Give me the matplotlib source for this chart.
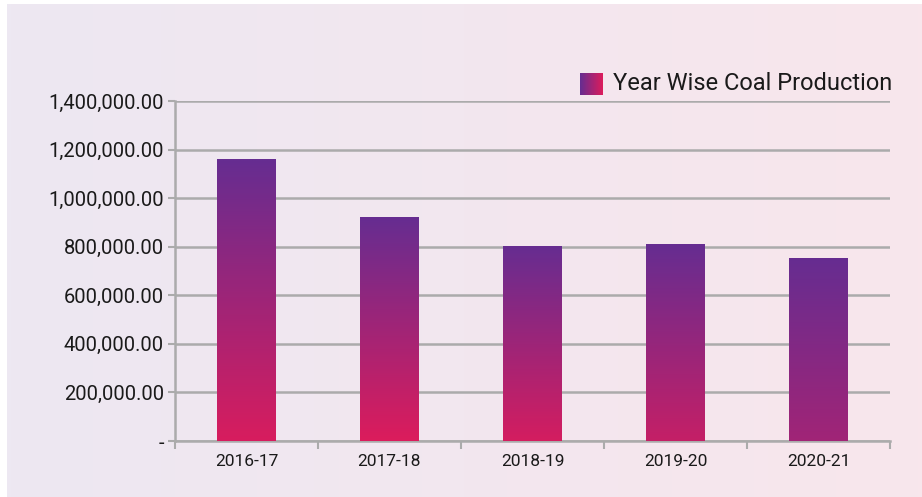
import matplotlib
matplotlib.use("Agg")
import matplotlib.pyplot as plt
import numpy as np
from matplotlib.colors import LinearSegmentedColormap
from matplotlib.ticker import FuncFormatter, FixedLocator

years = ["2016-17", "2017-18", "2018-19", "2019-20", "2020-21"]
production = [1160000, 922000, 804000, 811000, 754000]
series_name = "Year Wise Coal Production"

PURPLE = "#662d91"
PINK = "#dc1c5c"
GRID = "#ababab"
TEXT = "#1a1a1a"

plt.rcParams.update({
    "font.family": ["Roboto", "DejaVu Sans"],
    "font.size": 12,
})

fig = plt.figure(figsize=(9.22, 4.97), dpi=100)

# background: soft lavender -> pink horizontal gradient with thin white margin
bg = fig.add_axes([0, 0, 1, 1], zorder=-10)
bg_cmap = LinearSegmentedColormap.from_list("bg", ["#ede8f2", "#f8e6ec"])
bg.imshow(np.linspace(0, 1, 256)[None, :], cmap=bg_cmap, aspect="auto",
          extent=[0.008, 1, 0, 0.99])
bg.set_xlim(0, 1)
bg.set_ylim(0, 1)
bg.set_facecolor("white")
bg.axis("off")

ax = fig.add_axes([175 / 922, 1 - 441 / 497, 715 / 922, 340 / 497])
ax.patch.set_alpha(0)

x = np.arange(len(years))
bars = ax.bar(x, production, width=0.41, color="none", edgecolor="none", zorder=3)

# each bar gets a vertical purple -> pink fill; lower-right bars fade less to pink
bottom_mix = [0.96, 1.0, 0.93, 0.8, 0.5]
bar_cmap = LinearSegmentedColormap.from_list("bar", [PURPLE, PINK])
for rect, mix in zip(bars, bottom_mix):
    x0, y0 = rect.get_x(), rect.get_y()
    w, h = rect.get_width(), rect.get_height()
    grad = np.linspace(mix, 0, 256)[:, None]
    im = ax.imshow(grad, cmap=bar_cmap, vmin=0, vmax=1, aspect="auto",
                   extent=[x0, x0 + w, y0, y0 + h], origin="lower", zorder=3)
    im.set_clip_path(rect)

ax.set_xlim(-0.5, len(years) - 0.5)
ax.set_ylim(0, 1400000)
ax.set_yticks(np.arange(0, 1400001, 200000))
ax.yaxis.set_major_formatter(FuncFormatter(
    lambda v, _: "-" if v == 0 else f"{v:,.2f}"))
ax.grid(axis="y", color=GRID, linewidth=1.8, zorder=1)
ax.set_axisbelow(True)

ax.set_xticks(x)
ax.set_xticklabels(years, fontsize=12.5, color=TEXT)
ax.xaxis.set_minor_locator(FixedLocator(np.arange(-0.5, len(years), 1.0)))
ax.tick_params(axis="x", which="major", length=0, pad=9)
ax.tick_params(axis="x", which="minor", length=6, width=1.5, color=GRID)
ax.tick_params(axis="y", length=5, width=1.5, color=GRID, labelsize=14.5,
               labelcolor=TEXT, pad=3)

for side in ("top", "right"):
    ax.spines[side].set_visible(False)
for side in ("left", "bottom"):
    ax.spines[side].set_color(GRID)
    ax.spines[side].set_linewidth(1.8)

# legend: gradient swatch + label, top right
sw = fig.add_axes([580 / 922, 1 - 95 / 497, 23 / 922, 22 / 497])
sw.imshow(np.linspace(0, 1, 64)[None, :], cmap=bar_cmap, aspect="auto")
sw.axis("off")
fig.text(613 / 922, 1 - 84 / 497, series_name, fontsize=17, color=TEXT,
         va="center", ha="left")

fig.savefig("out.png", dpi=100)
